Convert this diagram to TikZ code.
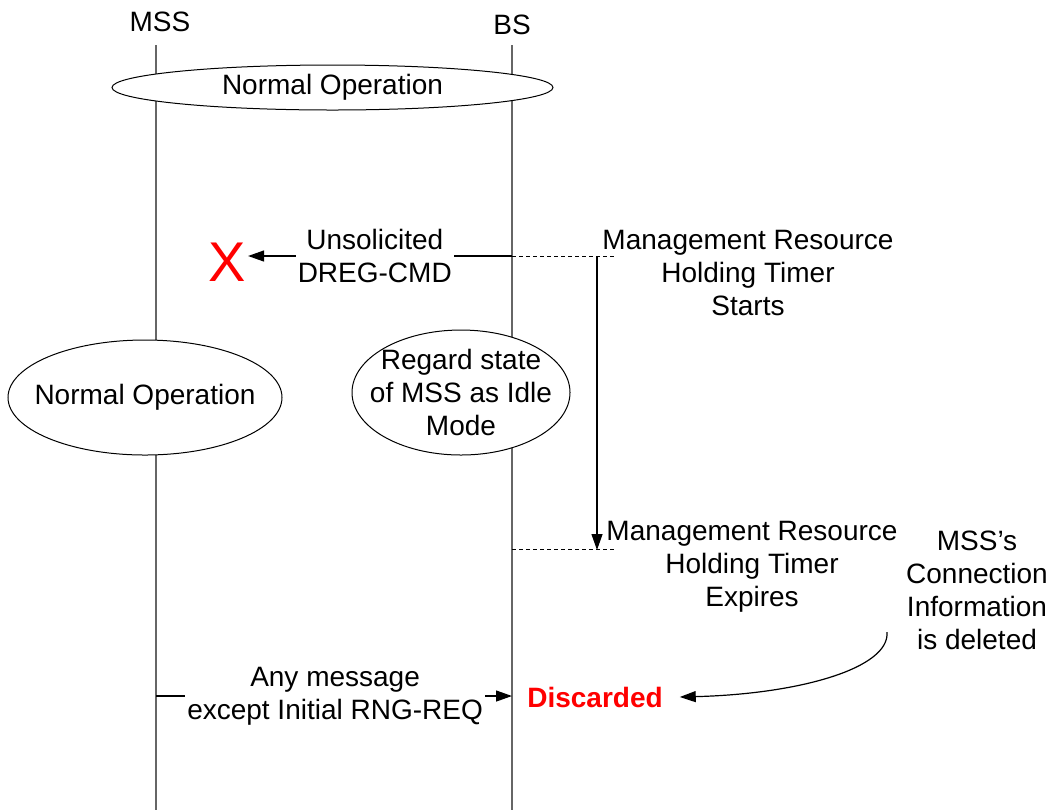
\documentclass[tikz,border=0pt]{standalone}
\usepackage{fontspec}
\setmainfont{Liberation Sans}
\usetikzlibrary{shapes.geometric, arrows.meta, positioning}

\begin{document}
\begin{tikzpicture}[
    x=0.5pt, y=-0.5pt,
    every node/.style={font=\fontsize{14}{16.5}\selectfont, align=center},
    lifeline/.style={draw=black!60, line width=0.6pt},
    state/.style={ellipse, draw, fill=white, line width=0.5pt, inner sep=0pt},
    msg/.style={-{Triangle[length=8pt, width=5.5pt]}, line width=0.6pt},
    timer/.style={dashed, dash pattern=on 2pt off 1.5pt, line width=0.5pt},
    note/.style={fill=white, inner sep=1pt}
]
    \useasboundingbox (0,0) rectangle (1047,810);

    % Lifelines
    \node (mss) at (160,22) {MSS};
    \node (bs) at (512,25) {BS};
    \coordinate (msstop) at (156,45);
    \coordinate (mssbot) at (156,810);
    \coordinate (bstop) at (512,45);
    \coordinate (bsbot) at (512,810);
    \draw[lifeline] (msstop) -- (mssbot);
    \draw[lifeline] (bstop) -- (bsbot);

    % States
    \node[state, minimum width=220.5pt, minimum height=22.5pt,
        label={center:Normal Operation}] (normal) at (332.5,87.5) {};
    \node[state, minimum width=137pt, minimum height=57.5pt,
        label={center:Normal Operation}] (mssnormal) at (145,397.5) {};
    \node[state, minimum width=109pt, minimum height=62.5pt,
        label={[align=center]center:Regard state\\of MSS as Idle\\Mode}] (idle) at (461,392.5) {};

    % Unsolicited DREG-CMD
    \coordinate (bsdreg) at (512,256);
    \node[text=red, font=\fontsize{28}{28}\selectfont, inner sep=1pt] (lost) at (227,262) {X};
    \draw[msg] (bsdreg) -- node[note, pos=0.52] {Unsolicited\\DREG-CMD} (lost.east |- bsdreg);

    % Timer
    \coordinate (tstart) at (597,256);
    \coordinate (tend) at (597,550);
    \coordinate (startend) at (617,256);
    \coordinate (bsexp) at (512,549);
    \coordinate (expend) at (617,549);
    \draw[timer] (bsdreg) -- (startend);
    \draw[timer] (bsexp) -- (expend);
    \draw[msg] (tstart) -- (tend);
    \node (startnote) at (748,273) {Management Resource\\Holding Timer\\Starts};
    \node (expnote) at (752,567) {Management Resource\\Holding Timer\\Expires};
    \node (delnote) at (977,590) {MSS’s\\Connection\\Information\\is deleted};

    % Any message
    \coordinate (mssany) at (156,696);
    \coordinate (bsany) at (512,696);
    \draw[msg] (mssany) -- node[note, pos=0.503] {Any message\\except Initial RNG-REQ} (bsany);
    \node[text=red, font=\fontsize{14}{16.5}\selectfont\bfseries] (disc) at (595,697) {Discarded};

    % Deleted info
    \coordinate (delsrc) at (887,632);
    \draw[msg] (delsrc) .. controls (890,668) and (800,694) .. ([xshift=5pt]disc.east);
\end{tikzpicture}
\end{document}
